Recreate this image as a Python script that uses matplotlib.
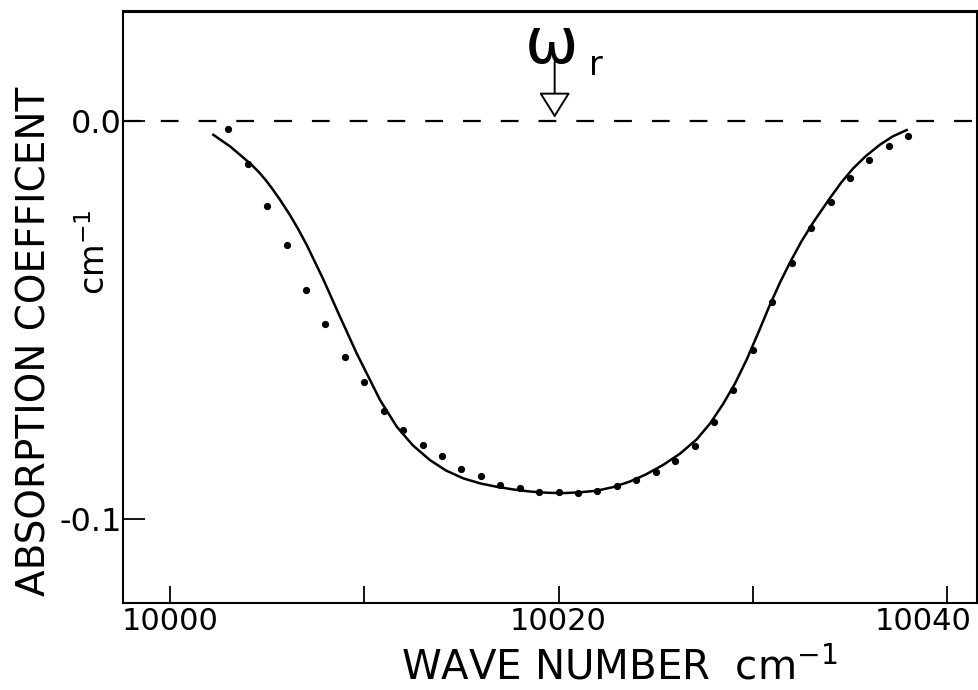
import matplotlib
matplotlib.use("Agg")
from matplotlib import pyplot as plt
from matplotlib import transforms

# measured points (dots)
point_x = [10003, 10004, 10005, 10006, 10007, 10008, 10009, 10010, 10011, 10012,
           10013, 10014, 10015, 10016, 10017, 10018, 10019, 10020, 10021, 10022,
           10023, 10024, 10025, 10026, 10027, 10028, 10029, 10030, 10031, 10032,
           10033, 10034, 10035, 10036, 10037, 10038]
point_y = [-0.0021, -0.0108, -0.0214, -0.0312, -0.0425, -0.0510, -0.0593, -0.0657,
           -0.0729, -0.0776, -0.0814, -0.0843, -0.0875, -0.0891, -0.0915, -0.0923,
           -0.0931, -0.0931, -0.0934, -0.0929, -0.0917, -0.0902, -0.0882, -0.0854,
           -0.0817, -0.0757, -0.0676, -0.0575, -0.0454, -0.0358, -0.0270, -0.0204,
           -0.0144, -0.0098, -0.0063, -0.0037]

# calculated curve (solid line)
curve_x = [10002.23, 10003.09, 10004.15, 10004.60, 10004.98, 10005.30, 10005.66,
           10006.18, 10006.60, 10007.04, 10007.89, 10008.75, 10009.61, 10010.81,
           10011.67, 10012.50, 10013.38, 10014.20, 10015.10, 10016.00, 10016.81,
           10017.70, 10018.53, 10019.40, 10020.23, 10021.10, 10021.96, 10022.80,
           10023.67, 10024.50, 10025.39, 10026.25, 10027.11, 10027.80, 10028.46,
           10029.08, 10029.68, 10030.30, 10030.88, 10031.40, 10031.91, 10032.50,
           10033.11, 10033.97, 10034.55, 10035.17, 10035.85, 10036.54, 10037.20,
           10037.92]
curve_y = [-0.0035, -0.0064, -0.0108, -0.0130, -0.0152, -0.0173, -0.0198,
           -0.0237, -0.0272, -0.0312, -0.0398, -0.0492, -0.0584, -0.0701,
           -0.0768, -0.0815, -0.0852, -0.0878, -0.0898, -0.0911, -0.0919,
           -0.0926, -0.0931, -0.0934, -0.0935, -0.0933, -0.0929, -0.0920,
           -0.0906, -0.0888, -0.0864, -0.0836, -0.0800, -0.0760, -0.0712,
           -0.0660, -0.0600, -0.0530, -0.0462, -0.0406, -0.0356, -0.0303,
           -0.0255, -0.0194, -0.0155, -0.0119, -0.0087, -0.0060, -0.0039,
           -0.0023]

x_ticks = [10000, 10010, 10020, 10030, 10040]
x_tick_labels = ["10000", "", "10020", "", "10040"]
y_ticks = [-0.1, 0.0]
y_tick_labels = ["-0.1", "0.0"]

FONT = "DejaVu Sans"

fig = plt.figure(figsize=(9.79, 6.90), dpi=100)
ax = fig.add_axes([123 / 979, 1 - 603 / 690, 854 / 979, 592 / 690])
ax.set_xlim(9997.58, 10041.54)
ax.set_ylim(-0.1211, 0.0276)

ax.axhline(0.0, color="black", lw=1.6, linestyle=(0, (8.0, 9.0)))
ax.plot(curve_x, curve_y, color="black", lw=1.8)
ax.plot(point_x, point_y, "o", color="black", markersize=4.2, linestyle="none")

for s in ax.spines.values():
    s.set_linewidth(1.5)
ax.spines["top"].set_linewidth(2.2)

ax.set_xticks(x_ticks)
ax.set_xticklabels(x_tick_labels, fontsize=22, family=FONT)
ax.set_yticks(y_ticks)
ax.set_yticklabels(y_tick_labels, fontsize=23, family=FONT)
ax.tick_params(direction="in", length=12, width=1.3)
ax.tick_params(axis="x", pad=3)
ax.tick_params(axis="y", length=16, pad=1)

# last x label sits left of its tick
lbl = ax.get_xticklabels()[-1]
lbl.set_horizontalalignment("right")
lbl.set_transform(lbl.get_transform() + transforms.ScaledTranslation(24 / 100, 0, fig.dpi_scale_trans))

# resonance marker
ax.annotate("", xy=(10019.8, 0.0008), xytext=(10019.8, 0.0148),
            arrowprops=dict(arrowstyle="-|>,head_length=0.8,head_width=0.5",
                            mutation_scale=20, fc="white", ec="black", lw=1.4,
                            shrinkA=0, shrinkB=0))
ax.text(10019.65, 0.0190, "\u03c9", fontsize=46, ha="center", va="center", family=FONT)
ax.text(10021.9, 0.0140, "r", fontsize=24, ha="center", va="center", family=FONT)

fig.text(35 / 979, 1 - 341 / 690, "ABSORPTION COEFFICENT", rotation=90,
         ha="center", va="center", fontsize=28, family=FONT)
fig.text(95 / 979, 1 - 252 / 690, "cm$^{-1}$", rotation=90,
         ha="center", va="center", fontsize=24, family=FONT)
fig.text(619 / 979, 1 - 668 / 690, "WAVE NUMBER  cm$^{-1}$",
         ha="center", va="center", fontsize=29, family=FONT)

fig.savefig("out.png", dpi=100)
